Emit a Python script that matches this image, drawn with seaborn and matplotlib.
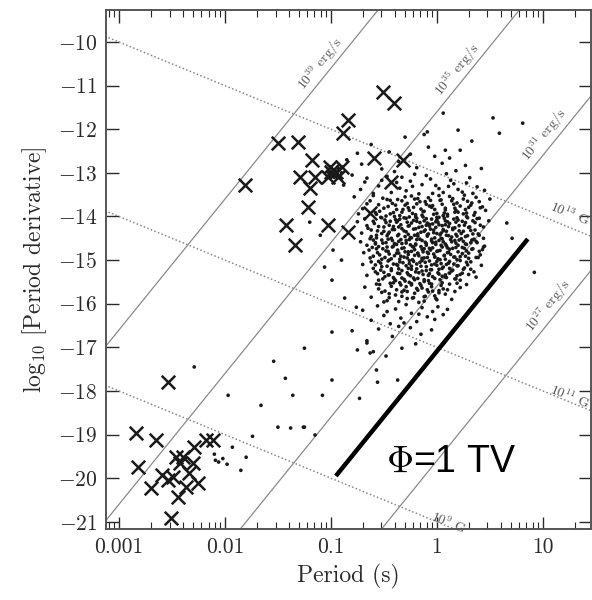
import numpy as np
import pandas as pd
import matplotlib
matplotlib.use('Agg')
import matplotlib.pyplot as plt
import seaborn as sns

# Normal radio pulsars (log10 P [s], log10 Pdot)
cloud = [
    (-0.62, -12.35), (-0.45, -12.52), (-0.30, -12.18), (-0.08, -12.41), (0.12, -12.66), (0.33, -12.27),
    (-0.71, -12.80), (-0.52, -12.91), (-0.36, -12.74), (-0.19, -12.88), (-0.02, -12.62), (0.18, -12.95),
    (0.27, -12.83), (-0.85, -12.70), (-0.40, -12.97), (0.05, -12.78), (-0.25, -12.57), (0.42, -12.90),
    (-0.12, -12.12), (0.22, -12.48),
    (-0.80, -13.05), (-0.66, -13.12), (-0.55, -13.30), (-0.47, -13.08), (-0.38, -13.22), (-0.29, -13.41),
    (-0.21, -13.03), (-0.14, -13.27), (-0.06, -13.14), (0.02, -13.36), (0.09, -13.02), (0.16, -13.25),
    (0.24, -13.44), (0.31, -13.11), (0.38, -13.32), (-0.72, -13.38), (-0.60, -13.47), (-0.43, -13.45),
    (-0.33, -13.10), (-0.25, -13.19), (-0.17, -13.48), (-0.10, -13.06), (-0.01, -13.29), (0.06, -13.45),
    (0.13, -13.17), (0.20, -13.38), (0.28, -13.23), (0.45, -13.40), (-0.52, -13.17), (-0.35, -13.35),
    (-0.04, -13.47), (0.11, -13.31), (-0.23, -13.31), (0.34, -13.47), (-0.88, -13.28),
    (-0.78, -13.55), (-0.70, -13.82), (-0.63, -13.64), (-0.57, -13.95), (-0.51, -13.58), (-0.46, -13.77),
    (-0.41, -13.91), (-0.37, -13.61), (-0.32, -13.84), (-0.28, -13.70), (-0.24, -13.53), (-0.20, -13.96),
    (-0.16, -13.66), (-0.12, -13.88), (-0.08, -13.57), (-0.04, -13.75), (0.00, -13.93), (0.04, -13.62),
    (0.08, -13.81), (0.12, -13.54), (0.16, -13.72), (0.20, -13.90), (0.25, -13.60), (0.30, -13.79),
    (0.35, -13.97), (0.40, -13.66), (0.46, -13.86), (-0.66, -13.71), (-0.54, -13.88), (-0.44, -13.63),
    (-0.35, -13.98), (-0.26, -13.86), (-0.18, -13.59), (-0.10, -13.72), (-0.02, -13.84), (0.06, -13.98),
    (0.14, -13.64), (0.22, -13.76), (0.28, -13.92), (0.37, -13.56), (-0.48, -13.99), (-0.30, -13.55),
    (-0.14, -13.97), (0.02, -13.52), (0.18, -13.86), (0.33, -13.69), (-0.60, -13.52), (-0.39, -13.74),
    (-0.06, -13.63), (0.10, -13.95), (0.26, -13.51), (0.43, -13.78), (-0.22, -13.79), (-0.74, -13.94),
    (0.50, -13.60),
    (-0.75, -14.12), (-0.71, -14.38), (-0.68, -14.05), (-0.65, -14.27), (-0.62, -14.46), (-0.59, -14.16),
    (-0.56, -14.33), (-0.53, -14.02), (-0.50, -14.24), (-0.47, -14.44), (-0.44, -14.11), (-0.42, -14.30),
    (-0.39, -14.07), (-0.36, -14.41), (-0.34, -14.19), (-0.31, -14.03), (-0.29, -14.35), (-0.27, -14.22),
    (-0.25, -14.48), (-0.22, -14.09), (-0.20, -14.28), (-0.18, -14.40), (-0.16, -14.14), (-0.13, -14.01),
    (-0.11, -14.31), (-0.09, -14.45), (-0.07, -14.18), (-0.05, -14.06), (-0.03, -14.37), (-0.01, -14.25),
    (0.01, -14.13), (0.03, -14.42), (0.05, -14.21), (0.07, -14.04), (0.09, -14.34), (0.12, -14.16),
    (0.14, -14.47), (0.17, -14.26), (0.20, -14.08), (0.23, -14.39), (0.26, -14.20), (0.29, -14.03),
    (0.32, -14.32), (0.36, -14.14), (0.40, -14.43), (0.44, -14.24), (0.49, -14.10),
    (-0.66, -14.21), (-0.57, -14.49), (-0.49, -14.08), (-0.41, -14.23), (-0.35, -14.06), (-0.30, -14.46),
    (-0.24, -14.15), (-0.19, -14.04), (-0.15, -14.36), (-0.10, -14.20), (-0.06, -14.29), (-0.02, -14.49),
    (0.02, -14.02), (0.06, -14.30), (0.10, -14.12), (0.15, -14.27), (0.19, -14.45), (0.24, -14.11),
    (0.30, -14.25), (0.38, -14.05), (-0.45, -14.36), (-0.33, -14.28), (-0.21, -14.43), (-0.12, -14.10),
    (-0.04, -14.17), (0.04, -14.38), (0.11, -14.44), (0.21, -14.33), (0.34, -14.40), (-0.52, -14.39),
    (-0.38, -14.13), (-0.26, -14.01), (-0.14, -14.23), (-0.08, -14.40), (0.00, -14.08), (0.08, -14.19),
    (0.16, -14.06), (0.27, -14.46),
    (-0.72, -14.58), (-0.69, -14.83), (-0.66, -14.66), (-0.63, -14.95), (-0.60, -14.54), (-0.57, -14.74),
    (-0.54, -14.88), (-0.51, -14.61), (-0.48, -14.79), (-0.46, -14.52), (-0.43, -14.97), (-0.41, -14.68),
    (-0.38, -14.84), (-0.36, -14.57), (-0.34, -14.91), (-0.31, -14.72), (-0.29, -14.55), (-0.27, -14.87),
    (-0.25, -14.65), (-0.23, -14.99), (-0.21, -14.76), (-0.19, -14.53), (-0.17, -14.90), (-0.15, -14.69),
    (-0.13, -14.81), (-0.11, -14.59), (-0.09, -14.94), (-0.07, -14.73), (-0.05, -14.56), (-0.03, -14.86),
    (-0.01, -14.64), (0.01, -14.97), (0.03, -14.78), (0.05, -14.51), (0.07, -14.89), (0.09, -14.67),
    (0.11, -14.82), (0.14, -14.58), (0.16, -14.93), (0.18, -14.71), (0.21, -14.54), (0.24, -14.85),
    (0.27, -14.63), (0.30, -14.96), (0.33, -14.75), (0.37, -14.57), (0.41, -14.88), (0.45, -14.68),
    (-0.64, -14.77), (-0.58, -14.60), (-0.52, -14.98), (-0.47, -14.70), (-0.42, -14.55), (-0.37, -14.77),
    (-0.33, -14.62), (-0.28, -14.95), (-0.24, -14.80), (-0.20, -14.63), (-0.16, -14.52), (-0.12, -14.74),
    (-0.08, -14.85), (-0.04, -14.60), (0.00, -14.80), (0.04, -14.66), (0.08, -14.98), (0.12, -14.75),
    (0.17, -14.55), (0.22, -14.92), (0.28, -14.79), (0.35, -14.52), (0.43, -14.76), (-0.55, -14.69),
    (-0.45, -14.86), (-0.35, -14.98), (-0.26, -14.53), (-0.18, -14.84), (-0.10, -14.66), (-0.02, -14.93),
    (0.06, -14.58), (0.13, -14.87), (0.20, -14.66), (0.26, -14.73), (0.32, -14.60), (0.39, -14.94),
    (-0.40, -14.62), (-0.30, -14.81), (-0.22, -14.70), (-0.14, -14.96), (-0.06, -14.77), (0.02, -14.55),
    (0.10, -14.72), (0.19, -14.99), (0.25, -14.57),
    (-0.70, -15.10), (-0.66, -15.35), (-0.62, -15.04), (-0.58, -15.27), (-0.55, -15.46), (-0.52, -15.15),
    (-0.49, -15.38), (-0.46, -15.02), (-0.43, -15.24), (-0.40, -15.44), (-0.37, -15.12), (-0.35, -15.31),
    (-0.32, -15.06), (-0.30, -15.48), (-0.27, -15.19), (-0.25, -15.36), (-0.22, -15.03), (-0.20, -15.27),
    (-0.18, -15.42), (-0.15, -15.14), (-0.13, -15.33), (-0.11, -15.05), (-0.08, -15.47), (-0.06, -15.22),
    (-0.04, -15.38), (-0.02, -15.09), (0.01, -15.29), (0.03, -15.45), (0.06, -15.16), (0.08, -15.34),
    (0.11, -15.07), (0.14, -15.25), (0.17, -15.43), (0.20, -15.13), (0.24, -15.30), (0.28, -15.05),
    (0.32, -15.21), (0.37, -15.39), (0.42, -15.12),
    (-0.60, -15.19), (-0.50, -15.28), (-0.41, -15.09), (-0.33, -15.41), (-0.26, -15.08), (-0.19, -15.20),
    (-0.12, -15.49), (-0.05, -15.11), (0.02, -15.21), (0.09, -15.40), (0.16, -15.09), (0.22, -15.46),
    (0.30, -15.33), (-0.45, -15.34), (-0.36, -15.20), (-0.28, -15.29), (-0.21, -15.45), (-0.14, -15.01),
    (-0.07, -15.31), (0.00, -15.03), (0.05, -15.37), (0.12, -15.19), (0.19, -15.36), (0.26, -15.18),
    (-0.53, -15.07), (-0.39, -15.47), (-0.24, -15.14), (-0.10, -15.24), (0.04, -15.08), (0.35, -15.27),
    (-0.68, -15.62), (-0.62, -15.85), (-0.57, -15.55), (-0.52, -15.74), (-0.47, -15.93), (-0.43, -15.60),
    (-0.39, -15.80), (-0.35, -15.52), (-0.31, -15.69), (-0.28, -15.88), (-0.24, -15.57), (-0.21, -15.76),
    (-0.17, -15.97), (-0.14, -15.64), (-0.11, -15.83), (-0.07, -15.53), (-0.04, -15.71), (0.00, -15.91),
    (0.04, -15.58), (0.08, -15.78), (0.12, -15.55), (0.17, -15.72), (0.22, -15.63), (0.28, -15.56),
    (-0.55, -15.66), (-0.45, -15.77), (-0.36, -15.95), (-0.29, -15.61), (-0.22, -15.86), (-0.16, -15.54),
    (-0.09, -15.68), (-0.02, -15.82), (0.06, -15.66), (0.14, -15.90), (-0.50, -15.96), (-0.41, -15.52),
    (-0.33, -15.73), (-0.26, -15.51), (-0.19, -15.65), (-0.12, -15.94), (-0.05, -15.61), (0.02, -15.75),
    (0.10, -15.68), (0.19, -15.53),
    (-0.70, -16.15), (-0.62, -16.38), (-0.56, -16.05), (-0.50, -16.27), (-0.44, -16.46), (-0.39, -16.12),
    (-0.34, -16.33), (-0.29, -16.02), (-0.24, -16.22), (-0.19, -16.41), (-0.14, -16.09), (-0.09, -16.30),
    (-0.04, -16.18), (0.01, -16.07), (0.06, -16.25), (-0.47, -16.18), (-0.31, -16.44), (-0.17, -16.24),
    (-0.02, -16.36), (0.10, -16.13),
    (-0.80, -16.62), (-0.66, -16.85), (-0.55, -16.58), (-0.42, -16.75), (-0.33, -17.02), (-0.25, -16.55),
    (-0.15, -16.70), (-0.05, -16.60), (-0.48, -17.20), (-0.36, -16.52), (-0.20, -16.92), (-0.60, -17.10),
]

# Dense core of the cloud (second reading pass)
core = [
    (-0.47, -13.61), (-0.33, -13.64), (-0.21, -13.60), (-0.11, -13.66), (0.03, -13.63), (0.15, -13.59),
    (0.29, -13.65), (-0.55, -13.73), (-0.42, -13.70), (-0.30, -13.74), (-0.19, -13.71), (-0.07, -13.76),
    (0.05, -13.72), (0.19, -13.69), (0.32, -13.74), (-0.50, -13.81), (-0.38, -13.84), (-0.27, -13.80),
    (-0.15, -13.83), (-0.05, -13.79), (0.08, -13.85), (0.17, -13.81), (0.27, -13.84), (0.41, -13.80),
    (-0.58, -13.91), (-0.44, -13.94), (-0.33, -13.90), (-0.23, -13.93), (-0.13, -13.89), (-0.03, -13.95),
    (0.07, -13.92), (0.17, -13.90), (0.25, -13.94), (0.36, -13.91), (-0.52, -14.03), (-0.40, -14.00),
    (-0.29, -14.04), (-0.20, -14.01), (-0.10, -14.05), (0.00, -14.02), (0.10, -13.99), (0.19, -14.03),
    (0.28, -14.00), (0.40, -14.04), (-0.60, -14.11), (-0.48, -14.14), (-0.37, -14.10), (-0.28, -14.13),
    (-0.19, -14.11), (-0.09, -14.15), (-0.01, -14.12), (0.08, -14.10), (0.18, -14.13), (0.27, -14.14),
    (0.34, -14.10), (-0.55, -14.23), (-0.45, -14.20), (-0.36, -14.24), (-0.26, -14.21), (-0.17, -14.25),
    (-0.07, -14.22), (0.02, -14.19), (0.11, -14.23), (0.21, -14.21), (0.31, -14.24), (0.41, -14.20),
    (-0.62, -14.31), (-0.50, -14.34), (-0.40, -14.30), (-0.31, -14.33), (-0.22, -14.29), (-0.12, -14.34),
    (-0.03, -14.31), (0.06, -14.33), (0.15, -14.30), (0.25, -14.34), (0.36, -14.31), (-0.57, -14.43),
    (-0.46, -14.40), (-0.37, -14.44), (-0.27, -14.41), (-0.18, -14.45), (-0.09, -14.42), (0.00, -14.39),
    (0.09, -14.43), (0.18, -14.41), (0.29, -14.44), (0.39, -14.40), (-0.63, -14.51), (-0.52, -14.54),
    (-0.43, -14.50), (-0.34, -14.53), (-0.24, -14.49), (-0.14, -14.55), (-0.05, -14.52), (0.04, -14.50),
    (0.13, -14.53), (0.23, -14.51), (0.33, -14.54), (0.44, -14.50), (-0.58, -14.63), (-0.48, -14.60),
    (-0.38, -14.64), (-0.29, -14.61), (-0.20, -14.65), (-0.10, -14.62), (-0.01, -14.59), (0.08, -14.63),
    (0.18, -14.61), (0.28, -14.64), (0.38, -14.60), (-0.61, -14.71), (-0.51, -14.74), (-0.42, -14.70),
    (-0.33, -14.73), (-0.23, -14.69), (-0.14, -14.75), (-0.04, -14.72), (0.05, -14.70), (0.15, -14.73),
    (0.24, -14.71), (0.34, -14.74), (0.44, -14.70), (-0.56, -14.83), (-0.46, -14.80), (-0.36, -14.84),
    (-0.27, -14.81), (-0.18, -14.85), (-0.09, -14.82), (0.01, -14.79), (0.10, -14.83), (0.20, -14.81),
    (0.30, -14.84), (0.40, -14.80), (-0.60, -14.91), (-0.49, -14.94), (-0.40, -14.90), (-0.31, -14.93),
    (-0.21, -14.89), (-0.12, -14.95), (-0.02, -14.92), (0.07, -14.90), (0.17, -14.93), (0.27, -14.91),
    (0.37, -14.94), (-0.55, -15.03), (-0.45, -15.00), (-0.35, -15.04), (-0.26, -15.01), (-0.16, -15.05),
    (-0.07, -15.02), (0.03, -14.99), (0.12, -15.03), (0.22, -15.01), (0.32, -15.04), (-0.58, -15.11),
    (-0.47, -15.14), (-0.38, -15.10), (-0.29, -15.13), (-0.19, -15.09), (-0.10, -15.15), (0.00, -15.12),
    (0.09, -15.10), (0.19, -15.13), (0.29, -15.11), (-0.53, -15.23), (-0.43, -15.20), (-0.33, -15.24),
    (-0.24, -15.21), (-0.14, -15.25), (-0.05, -15.22), (0.05, -15.19), (0.15, -15.23), (0.25, -15.21),
    (-0.56, -15.31), (-0.46, -15.34), (-0.37, -15.30), (-0.27, -15.33), (-0.17, -15.29), (-0.08, -15.35),
    (0.02, -15.32), (0.12, -15.30), (0.22, -15.33), (-0.51, -15.43), (-0.41, -15.40), (-0.31, -15.44),
    (-0.22, -15.41), (-0.12, -15.45), (-0.02, -15.42), (0.08, -15.39), (0.18, -15.43), (-0.54, -15.56),
    (-0.44, -15.53), (-0.34, -15.57), (-0.24, -15.54), (-0.15, -15.58), (-0.05, -15.55), (0.05, -15.52),
    (-0.49, -15.71), (-0.38, -15.68), (-0.28, -15.72), (-0.18, -15.69), (-0.08, -15.73), (0.02, -15.70),
    (-0.45, -15.86), (-0.33, -15.83), (-0.23, -15.87), (-0.12, -15.84), (-0.01, -15.88),
]

# Sparse pulsars outside the main cloud
field = [
    (0.06, -11.63), (0.20, -12.02), (0.53, -11.74), (0.81, -11.86), (0.59, -12.09), (0.66, -14.15),
    (0.71, -14.50), (0.92, -15.28), (-0.09, -12.06), (0.08, -12.48), (-0.75, -12.55), (-0.68, -13.21),
    (-1.20, -14.13), (-0.98, -14.77), (-1.06, -15.16), (-0.90, -15.00), (-0.99, -15.46), (-0.87, -15.87),
    (-0.76, -16.08), (-1.10, -14.43), (-0.96, -12.95), (-0.99, -13.05), (-0.93, -12.90), (-1.02, -13.00),
    (-0.97, -13.10), (-0.90, -13.00),
    (-2.29, -17.45), (-1.54, -17.32), (-1.43, -17.71), (-1.36, -18.10), (-1.66, -18.33), (-1.97, -18.10),
    (-1.50, -18.83), (-1.38, -18.85), (-1.26, -18.83), (-1.74, -19.04), (-1.93, -19.29), (-1.80, -19.52),
    (-1.85, -19.82), (-2.09, -19.59), (-2.06, -19.63), (-0.99, -16.65), (-1.25, -17.02), (-0.99, -17.75),
    (-1.08, -18.10), (-0.73, -18.17), (-0.56, -17.80), (-0.37, -17.75), (-0.57, -17.52), (-1.25, -18.83),
    (-1.15, -19.01), (-0.75, -17.06), (-0.63, -17.13), (-0.66, -16.90), (-2.10, -19.45), (-2.02, -19.55),
    (-1.98, -19.68),
]

# Pulsars marked with crosses
xmark_logp = [-0.51, -0.40, -0.84, -0.89, -1.50, -1.31, -1.81, -1.18, -1.29, -1.15, -1.20, -1.01,
              -0.90, -0.93, -1.03, -0.59, -0.32, -1.22, -1.42, -1.34, -1.03, -0.84, -0.43, -0.63,
              -0.98, -0.95, -1.00,
              -2.54, -2.84, -2.65, -2.82, -2.70, -2.59, -2.49, -2.46, -2.40, -2.42, -2.30, -2.29,
              -2.18, -2.11, -2.25, -2.44, -2.51, -2.54, -2.34, -2.37]
xmark_logpdot = [-11.15, -11.40, -11.79, -12.09, -12.32, -12.29, -13.28, -12.71, -13.10, -13.10, -13.35, -12.87,
                 -12.87, -13.10, -13.10, -12.66, -12.71, -13.78, -14.20, -14.66, -14.20, -14.36, -13.21, -13.92,
                 -12.94, -12.98, -12.98,
                 -17.80, -18.97, -19.13, -19.75, -20.23, -19.93, -19.98, -19.52, -19.52, -19.66, -19.66, -19.29,
                 -19.13, -19.13, -20.12, -20.44, -20.92, -20.05, -19.89, -20.21]

# reference lines
edot_exp = [39, 35, 31, 27]          # log10 spin-down luminosity (erg/s)
edot_label_logp = [-1.02, 0.27, 1.10, 1.13]
bfield_exp = [13, 11, 9]             # log10 surface field (G)
bfield_label_logp = [1.21, 1.24, 0.10]
bfield_label_off = [9.0, 4.0, 2.5]
phi_logp = [-0.953, 0.858]           # Phi = 1 TV segment ends
phi_const = -17.09

cloud_df = pd.DataFrame(cloud + core + field, columns=['logp', 'logpdot'])
cloud_df['P'] = 10 ** cloud_df['logp']
xm_df = pd.DataFrame({'P': 10 ** np.array(xmark_logp), 'logpdot': xmark_logpdot})

sns.set_style('ticks')
plt.rcParams['font.family'] = ['cmr10', 'DejaVu Serif']
plt.rcParams['mathtext.fontset'] = 'cm'
plt.rcParams['axes.formatter.use_mathtext'] = True
plt.rcParams['axes.unicode_minus'] = True

fig = plt.figure(figsize=(5.92, 6.0), dpi=100)
ax = fig.add_axes([0.179, 0.118, 0.819, 0.865])
ax.set_xscale('log')
xmin, xmax = 10 ** -3.123, 10 ** 1.453
ax.set_xlim(xmin, xmax)
ax.set_ylim(-21.17, -9.27)

lgrid = np.linspace(-3.2, 1.5, 200)
line_col = '#8a8a8a'
for e in edot_exp:
    ax.plot(10 ** lgrid, 3 * lgrid + e - 46.6, color=line_col, lw=0.9, zorder=1)
for b in bfield_exp:
    ax.plot(10 ** lgrid, -lgrid + 2 * (b - 19.5), color=line_col, lw=1.1, ls=(0, (1, 1.5)), zorder=1)

# Phi = 1 TV line
pl = np.array(phi_logp)
ax.plot(10 ** pl, 3 * pl + phi_const, color='black', lw=3.2, solid_capstyle='butt', zorder=4)

sns.scatterplot(data=cloud_df, x='P', y='logpdot', s=7, color='#1a1a1a', edgecolor='none',
                ax=ax, zorder=3, legend=False)
sns.scatterplot(data=xm_df, x='P', y='logpdot', marker='x', s=95, color='#1a1a1a',
                linewidth=1.8, ax=ax, zorder=3, legend=False)


def screen_angle(slope):
    p1 = ax.transData.transform((1.0, -15.0))
    p2 = ax.transData.transform((10.0, -15.0 + slope))
    return np.degrees(np.arctan2(p2[1] - p1[1], p2[0] - p1[0]))


a_e = screen_angle(3)
a_b = screen_angle(-1)
ne = np.array([-np.sin(np.radians(a_e)), np.cos(np.radians(a_e))]) * 8.0
for e, lp in zip(edot_exp, edot_label_logp):
    ax.annotate(r'$10^{%d}$ erg/s' % e, xy=(10 ** lp, 3 * lp + e - 46.6), xytext=tuple(ne),
                textcoords='offset points', rotation=a_e, rotation_mode='anchor',
                ha='center', va='center', fontsize=10, color='#555555', zorder=2)
for b, lp, off in zip(bfield_exp, bfield_label_logp, bfield_label_off):
    nb = np.array([-np.sin(np.radians(a_b)), np.cos(np.radians(a_b))]) * off
    ax.annotate(r'$10^{%d}$ G' % b, xy=(10 ** lp, -lp + 2 * (b - 19.5)), xytext=tuple(nb),
                textcoords='offset points', rotation=a_b, rotation_mode='anchor',
                ha='center', va='center', fontsize=10, color='#555555', zorder=2)

ax.text(1.36, -19.63, r'$\Phi$=1 TV', fontsize=27, family=['Liberation Sans'],
        ha='center', va='center', color='black', zorder=5)

ax.set_xticks([0.001, 0.01, 0.1, 1, 10])
ax.set_xticklabels(['0.001', '0.01', '0.1', '1', '10'])
ax.set_yticks(np.arange(-21, -9))
ax.tick_params(axis='both', which='major', direction='in', length=9, width=1.0,
               top=True, right=True, labelsize=15.5, colors='#2a2a2a', pad=6)
ax.tick_params(axis='x', which='minor', direction='in', length=5, width=0.8, top=True)
for sp in ax.spines.values():
    sp.set_linewidth(1.4)
    sp.set_color('#555555')

ax.set_xlabel('Period (s)', fontsize=17, color='#2a2a2a', labelpad=5)
ax.set_ylabel(r'log$_{10}$ [Period derivative]', fontsize=17, color='#2a2a2a', labelpad=6)

fig.savefig('out.png', dpi=100, facecolor='white')
